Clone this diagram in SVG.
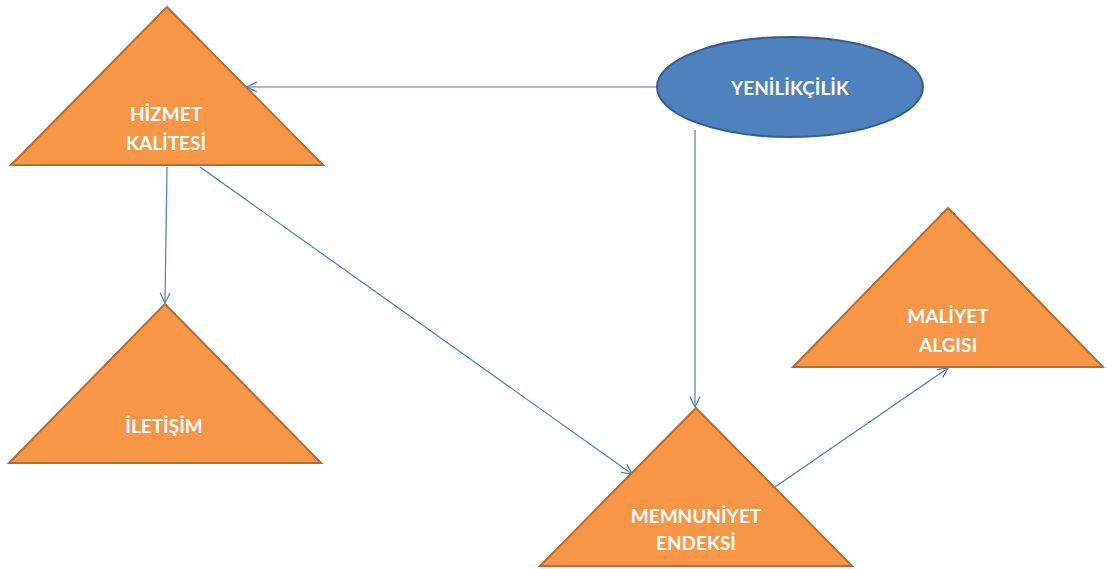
<svg xmlns="http://www.w3.org/2000/svg" width="1107" height="569" viewBox="0 0 1107 569">
  <style>
    .tri { fill: #F79646; stroke: #B66D31; stroke-width: 2; }
    .oval { fill: #4F81BD; stroke: #385D8A; stroke-width: 2; }
    .lbl { font-family: Lato, "Open Sans", "Liberation Sans", sans-serif; font-weight: bold; font-size: 19px; fill: #FFFFFF; text-anchor: middle; dominant-baseline: central; }
    .edge { fill: none; stroke: #4A7EBB; stroke-width: 1.2; marker-end: url(#arrow); }
  </style>
  <defs>
    <marker id="arrow" viewBox="0 0 12 12" refX="11" refY="6" markerWidth="12" markerHeight="12" markerUnits="userSpaceOnUse" orient="auto">
      <path d="M1,1 L11,6 L1,11" fill="none" stroke="#4A7EBB" stroke-width="1.2"/>
    </marker>
  </defs>

  <g id="connectors">
    <line class="edge" x1="657" y1="87" x2="247" y2="87"/>
    <line class="edge" x1="167" y1="167" x2="165" y2="303"/>
    <line class="edge" x1="200" y1="167" x2="632" y2="474"/>
    <line class="edge" x1="695" y1="130" x2="695" y2="407"/>
    <line class="edge" x1="775" y1="487" x2="948" y2="368"/>
  </g>

  <g id="hizmet-kalitesi">
    <polygon class="tri" points="167,7 323,165 11,165"/>
    <text class="lbl" x="166" y="113">HİZMET</text>
    <text class="lbl" x="166" y="142">KALİTESİ</text>
  </g>

  <g id="yenilikcilik">
    <ellipse class="oval" cx="790" cy="87" rx="133" ry="50"/>
    <text class="lbl" x="790" y="87">YENİLİKÇİLİK</text>
  </g>

  <g id="iletisim">
    <polygon class="tri" points="165,304 321,463 9,463"/>
    <text class="lbl" x="164" y="425">İLETİŞİM</text>
  </g>

  <g id="memnuniyet-endeksi">
    <polygon class="tri" points="696,408 852,566 540,566"/>
    <text class="lbl" x="696" y="515">MEMNUNİYET</text>
    <text class="lbl" x="696" y="542">ENDEKSİ</text>
  </g>

  <g id="maliyet-algisi">
    <polygon class="tri" points="948,208 1103,367 793,367"/>
    <text class="lbl" x="948" y="315">MALİYET</text>
    <text class="lbl" x="948" y="344">ALGISI</text>
  </g>
</svg>
